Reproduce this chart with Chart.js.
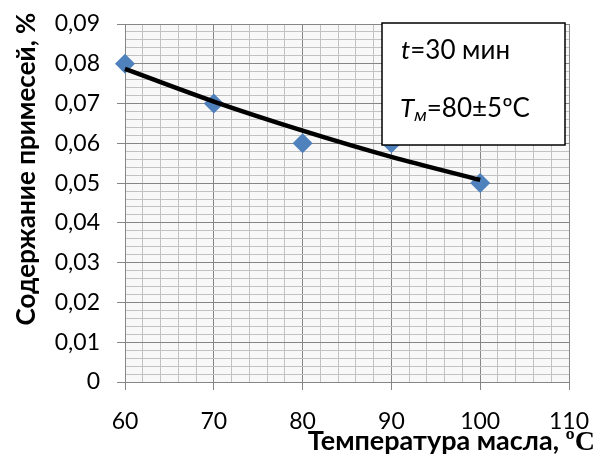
<!DOCTYPE html>
<html>
<head>
<meta charset="utf-8">
<script src="https://cdn.jsdelivr.net/npm/chart.js@4.4.1/dist/chart.umd.min.js"></script>
<style>
  html, body { margin: 0; padding: 0; background: #fff; }
  canvas { display: block; }
</style>
</head>
<body>
<canvas id="chart" width="606" height="465"></canvas>
<script>
// Values
const temperatures = [60, 70, 80, 90, 100]
const impurities = [0.08, 0.07, 0.06, 0.06, 0.05]
const trendTemps = [60, 70, 80, 90, 100]
const trendValues = [0.0787, 0.0705, 0.0632, 0.0566, 0.0508]
const xTickLabels = ["60", "70", "80", "90", "100", "110"]
const yTickLabels = ["0", "0,01", "0,02", "0,03", "0,04", "0,05", "0,06", "0,07", "0,08", "0,09"]
const yTitle = "Содержание примесей, %"
const xTitle = "Температура масла, "
const xTitleUnit = "ºC"

const FONT = "Lato"
const MAJOR = "#868686"
const MINOR = "#c2c2c2"

const isMajorX = v => Math.abs(v % 10) < 1e-6
const isMajorY = v => Math.abs(v * 100 - Math.round(v * 100)) < 1e-6

// Plot background, axis titles and the note box
const decorations = {
  id: "decorations",
  beforeDraw (chart) {
    const { ctx, chartArea: a } = chart
    ctx.save()
    ctx.fillStyle = "#f8f8f8"
    ctx.fillRect(a.left, a.top, a.right - a.left, a.bottom - a.top)
    ctx.restore()
  },
  afterDraw (chart) {
    const ctx = chart.ctx
    ctx.save()
    ctx.fillStyle = "#000"

    // y title
    ctx.translate(27, 169)
    ctx.rotate(-Math.PI / 2)
    ctx.font = `bold 26px ${FONT}`
    ctx.textAlign = "center"
    ctx.textBaseline = "middle"
    ctx.fillText(yTitle, 0, 0)
    ctx.setTransform(1, 0, 0, 1, 0, 0)

    // x title, unit in a serif face
    ctx.textAlign = "left"
    ctx.textBaseline = "alphabetic"
    ctx.font = "bold 28px 'Liberation Serif'"
    const unitW = ctx.measureText(xTitleUnit).width
    ctx.font = `bold 27px ${FONT}`
    const mainW = ctx.measureText(xTitle).width
    const xEnd = 595
    ctx.fillText(xTitle, xEnd - unitW - mainW, 450)
    ctx.font = "bold 28px 'Liberation Serif'"
    ctx.fillText(xTitleUnit, xEnd - unitW, 450)

    // note box
    ctx.fillStyle = "#fff"
    ctx.fillRect(382, 23, 183, 122)
    ctx.strokeStyle = "#000"
    ctx.lineWidth = 1.5
    ctx.strokeRect(382, 23, 183, 122)

    ctx.fillStyle = "#000"
    let x = 401
    ctx.font = `italic 26px ${FONT}`
    ctx.fillText("t", x, 59)
    x += ctx.measureText("t").width
    ctx.font = `26px ${FONT}`
    ctx.fillText("=30 мин", x, 59)

    x = 400
    ctx.font = `italic 26px ${FONT}`
    ctx.fillText("T", x, 117)
    x += ctx.measureText("T").width
    ctx.font = `italic 18px ${FONT}`
    ctx.fillText("м", x, 121)
    x += ctx.measureText("м").width
    ctx.font = `26px ${FONT}`
    ctx.fillText("=80±5ºC", x, 117)

    ctx.restore()
  }
}

new Chart(document.getElementById("chart").getContext("2d"), {
  type: "scatter",
  data: {
    datasets: [
      {
        label: "trend",
        data: trendTemps.map((t, i) => ({ x: t, y: trendValues[i] })),
        showLine: true,
        clip: false,
        borderColor: "#000",
        borderWidth: 4.5,
        pointRadius: 0,
        cubicInterpolationMode: "monotone"
      },
      {
        label: "data",
        data: temperatures.map((t, i) => ({ x: t, y: impurities[i] })),
        clip: false,
        pointStyle: "rectRot",
        pointRadius: 10,
        backgroundColor: "#4f81bd",
        borderColor: "#4f81bd",
        borderWidth: 0
      }
    ]
  },
  options: {
    responsive: false,
    animation: false,
    layout: { padding: { left: 0, top: 24, right: 37, bottom: 0 } },
    plugins: { legend: { display: false }, tooltip: { enabled: false } },
    scales: {
      x: {
        type: "linear",
        min: 60,
        max: 110,
        afterFit: scale => {
          scale.height = 83
          scale.paddingLeft = 0
          scale.paddingRight = 0
        },
        border: { color: MAJOR },
        grid: {
          color: c => isMajorX(c.tick.value) ? MAJOR : MINOR,
          tickColor: c => isMajorX(c.tick.value) ? MAJOR : "rgba(0,0,0,0)",
          tickLength: 8
        },
        ticks: {
          stepSize: 2,
          autoSkip: false,
          maxRotation: 0,
          padding: 18,
          color: "#000",
          font: { family: FONT, size: 23 },
          callback: v => isMajorX(v) ? xTickLabels[Math.round((v - 60) / 10)] : ""
        }
      },
      y: {
        min: 0,
        max: 0.09,
        afterFit: scale => {
          scale.width = 125
          scale.paddingTop = 0
          scale.paddingBottom = 0
        },
        border: { color: MAJOR },
        grid: {
          color: c => isMajorY(c.tick.value) ? MAJOR : MINOR,
          tickColor: c => isMajorY(c.tick.value) ? MAJOR : "rgba(0,0,0,0)",
          tickLength: 8
        },
        ticks: {
          stepSize: 0.002,
          autoSkip: false,
          padding: 17,
          color: "#000",
          font: { family: FONT, size: 23 },
          callback: v => isMajorY(v) ? yTickLabels[Math.round(v * 100)] : ""
        }
      }
    }
  },
  plugins: [decorations]
})
</script>
</body>
</html>
